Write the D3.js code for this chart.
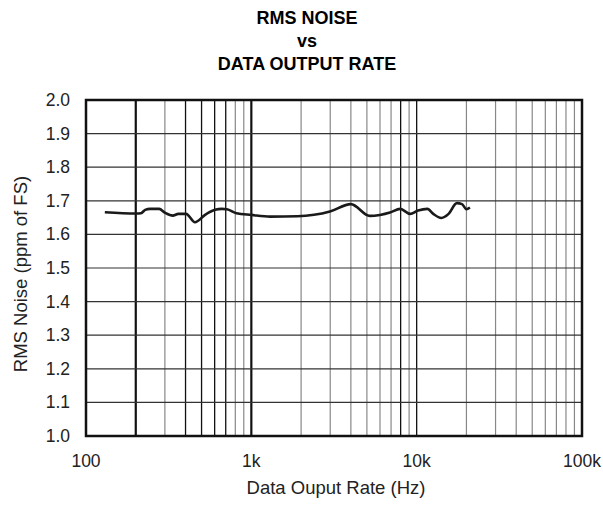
<!DOCTYPE html>
<html lang="en">
<head>
  <meta charset="UTF-8">
  <title>RMS Noise vs Data Output Rate</title>
  <script src="https://d3js.org/d3.v7.min.js"></script>
  <style>
    body { margin: 0; background: #fff; }
    text { font-family: "Liberation Sans", Arial, Helvetica, sans-serif; fill: #222; }
    .title { font-weight: bold; font-size: 18px; fill: #000; }
    .tick-label { font-size: 17.5px; }
    .axis-title { font-size: 18.5px; }
    .hgrid { stroke: #333; stroke-width: 1.2px; }
    .vgrid { stroke: #888; stroke-width: 1.2px; }
    .vgrid.dark { stroke: #111; stroke-width: 1.3px; }
    .vgrid.heavy { stroke: #111; stroke-width: 2.2px; }
    .frame { fill: none; stroke: #111; stroke-width: 2.5px; }
    .curve { fill: none; stroke: #1a1a1a; stroke-width: 2.6px; stroke-linejoin: round; }
  </style>
</head>
<body>
<svg id="chart" width="603" height="505"></svg>
<script>
  // data
  const rate = [130, 200, 215, 228, 244, 277, 300, 335, 362, 403, 456, 525, 603, 663, 711, 814,
                1000, 1300, 1900, 2990, 4000, 5200, 6000, 6900, 7950, 9130, 10200, 11600,
                12600, 14100, 15600, 17500, 18800, 20000, 21000];
  const noise = [1.666, 1.662, 1.663, 1.673, 1.676, 1.676, 1.665, 1.656, 1.661, 1.661, 1.636, 1.658,
                 1.673, 1.676, 1.675, 1.663, 1.658, 1.653, 1.654, 1.668, 1.690, 1.655, 1.658,
                 1.665, 1.676, 1.661, 1.671, 1.676, 1.661, 1.649, 1.661, 1.693, 1.690, 1.675, 1.680];

  const xTicks = [100, 1000, 10000, 100000];
  const xTickLabels = ["100", "1k", "10k", "100k"];
  const yTicks = d3.range(10, 21).map(d => d / 10);
  const heavyLines = [200, 1000];
  const darkLines = [400, 500, 600, 700, 8000, 10000];

  const svg = d3.select("#chart");
  const margin = { top: 100, right: 21, bottom: 69, left: 86 };
  const width = +svg.attr("width") - margin.left - margin.right;
  const height = +svg.attr("height") - margin.top - margin.bottom;
  const g = svg.append("g").attr("transform", "translate(" + margin.left + "," + margin.top + ")");

  const x = d3.scaleLog().domain([100, 100000]).range([0, width]);
  const y = d3.scaleLinear().domain([1.0, 2.0]).range([height, 0]);

  // vertical log gridlines
  let vLines = [];
  [100, 1000, 10000].forEach(dec => {
    for (let m = 2; m <= 10; m++) vLines.push(dec * m);
  });
  vLines = vLines.filter(v => v < 100000);
  g.selectAll("line.vgrid").data(vLines).join("line")
    .attr("class", d => "vgrid" + (heavyLines.includes(d) ? " heavy" : darkLines.includes(d) ? " dark" : ""))
    .attr("x1", d => x(d)).attr("x2", d => x(d))
    .attr("y1", 0).attr("y2", height);

  g.selectAll("line.hgrid").data(yTicks.slice(1, -1)).join("line")
    .attr("class", "hgrid")
    .attr("x1", 0).attr("x2", width)
    .attr("y1", d => y(d)).attr("y2", d => y(d));

  g.append("rect").attr("class", "frame")
    .attr("x", 0).attr("y", 0).attr("width", width).attr("height", height);

  const line = d3.line().x((d, i) => x(rate[i])).y(d => y(d)).curve(d3.curveMonotoneX);
  g.append("path").datum(noise).attr("class", "curve").attr("d", line);

  // tick labels
  g.selectAll("text.ytick").data(yTicks).join("text")
    .attr("class", "tick-label ytick")
    .attr("x", -16).attr("y", d => y(d) + 6)
    .attr("text-anchor", "end")
    .text(d => d.toFixed(1));

  g.selectAll("text.xtick").data(xTicks).join("text")
    .attr("class", "tick-label xtick")
    .attr("x", d => x(d)).attr("y", height + 31)
    .attr("text-anchor", "middle")
    .text((d, i) => xTickLabels[i]);

  // axis titles
  g.append("text").attr("class", "axis-title")
    .attr("x", width / 2 + 2).attr("y", height + 58)
    .attr("text-anchor", "middle")
    .text("Data Ouput Rate (Hz)");

  g.append("text").attr("class", "axis-title")
    .attr("transform", "translate(" + (-59) + "," + (height / 2 + 6) + ") rotate(-90)")
    .attr("text-anchor", "middle")
    .text("RMS Noise (ppm of FS)");

  // title
  const titleLines = ["RMS NOISE", "vs", "DATA OUTPUT RATE"];
  svg.selectAll("text.title").data(titleLines).join("text")
    .attr("class", "title")
    .attr("x", 307).attr("y", (d, i) => 24 + i * 23)
    .attr("text-anchor", "middle")
    .text(d => d);
</script>
</body>
</html>
